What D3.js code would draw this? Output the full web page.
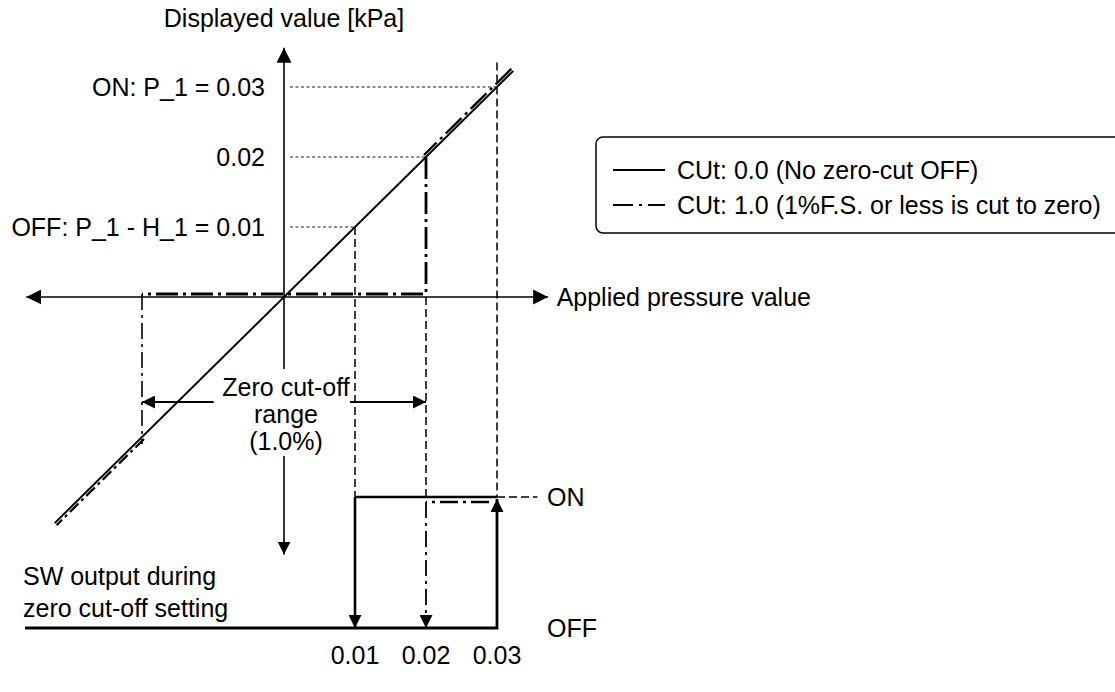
<!DOCTYPE html>
<html>
<head>
<meta charset="utf-8">
<script src="https://cdn.jsdelivr.net/npm/d3@7"></script>
<style>
body { margin: 0; background: #fff; }
text { font-family: "Liberation Sans", Arial, sans-serif; font-size: 25px; fill: #000; }
</style>
</head>
<body>
<div id="chart"></div>
<script>
var width = 1115;
var height = 692;

// values
var tickValues = [0.01, 0.02, 0.03];
var tickLabels = ["OFF: P_1 - H_1 = 0.01", "0.02", "ON: P_1 = 0.03"];
var lineExtent = [-0.0323, 0.0323];   // solid line, CUt 0.0
var offPoint = 0.01;                   // P_1 - H_1
var onPoint = 0.03;                    // P_1
var cutRange = [-0.02, 0.02];          // zero cut-off range
var states = ["OFF", "ON"];
var legendItems = ["CUt: 0.0 (No zero-cut OFF)", "CUt: 1.0 (1%F.S. or less is cut to zero)"];

var svg = d3.select("#chart").append("svg")
  .attr("width", width)
  .attr("height", height);

var x = d3.scaleLinear().domain([0, 0.03]).range([284, 497]);
var y = d3.scaleLinear().domain([0, 0.03]).range([297, 87]);
var ys = d3.scalePoint().domain(states).range([628, 497]);

var dashDot = "22,5,3,5";

// arrow head markers
var defs = svg.append("defs");
function marker(id, size) {
  defs.append("marker")
    .attr("id", id)
    .attr("viewBox", "0 -5 10 10")
    .attr("refX", 10)
    .attr("refY", 0)
    .attr("markerUnits", "userSpaceOnUse")
    .attr("markerWidth", size)
    .attr("markerHeight", size)
    .attr("orient", "auto-start-reverse")
    .append("path")
    .attr("d", "M0,-5L10,0L0,5Z")
    .attr("fill", "#000");
}
marker("big", 15);
marker("mid", 13);

// axes
svg.append("line")
  .attr("x1", x(-0.0363)).attr("x2", x(0.0372))
  .attr("y1", y(0)).attr("y2", y(0))
  .attr("stroke", "#000").attr("stroke-width", 1.6)
  .attr("marker-start", "url(#big)").attr("marker-end", "url(#big)");

svg.append("line")
  .attr("x1", x(0)).attr("x2", x(0))
  .attr("y1", y(-0.0103)).attr("y2", y(0.0356))
  .attr("stroke", "#000").attr("stroke-width", 1.6)
  .attr("marker-end", "url(#big)");

// lower part of vertical axis, below the range text
svg.append("line")
  .attr("x1", x(0)).attr("x2", x(0))
  .attr("y1", y(-0.0227)).attr("y2", y(-0.0368))
  .attr("stroke", "#000").attr("stroke-width", 1.6)
  .attr("marker-end", "url(#mid)");

// labels
svg.append("text").attr("x", x(0)).attr("y", 27)
  .attr("text-anchor", "middle").text("Displayed value [kPa]");
svg.append("text").attr("x", x(0.0384)).attr("y", y(0) + 9)
  .text("Applied pressure value");

svg.selectAll("text.tick")
  .data(tickValues)
  .enter().append("text")
  .attr("class", "tick")
  .attr("x", 265)
  .attr("y", function(d) { return y(d) + 9; })
  .attr("text-anchor", "end")
  .text(function(d, i) { return tickLabels[i]; });

// dotted guides from the y axis
svg.selectAll("line.guide")
  .data(tickValues)
  .enter().append("line")
  .attr("class", "guide")
  .attr("x1", x(0) + 6)
  .attr("x2", function(d) { return x(d); })
  .attr("y1", function(d) { return y(d); })
  .attr("y2", function(d) { return y(d); })
  .attr("stroke", "#000").attr("stroke-width", 0.9)
  .attr("stroke-dasharray", "3,2.5");

// dashed verticals down to the switch output
svg.append("line")
  .attr("x1", x(offPoint)).attr("x2", x(offPoint))
  .attr("y1", y(offPoint)).attr("y2", ys("ON"))
  .attr("stroke", "#000").attr("stroke-width", 1.5).attr("stroke-dasharray", "8,4");
svg.append("line")
  .attr("x1", x(cutRange[1])).attr("x2", x(cutRange[1]))
  .attr("y1", y(0)).attr("y2", ys("ON"))
  .attr("stroke", "#000").attr("stroke-width", 1.5).attr("stroke-dasharray", "8,4");
svg.append("line")
  .attr("x1", x(onPoint)).attr("x2", x(onPoint))
  .attr("y1", y(0.0335)).attr("y2", ys("ON"))
  .attr("stroke", "#000").attr("stroke-width", 1.5).attr("stroke-dasharray", "8,4");

// solid line: CUt 0.0
svg.append("line")
  .attr("x1", x(lineExtent[0])).attr("y1", y(lineExtent[0]))
  .attr("x2", x(lineExtent[1])).attr("y2", y(lineExtent[1]))
  .attr("stroke", "#000").attr("stroke-width", 2);

// dash-dot line: CUt 1.0 (drawn a few pixels off the solid one)
var cutPath = d3.line();
svg.append("path")
  .attr("d", cutPath([
    [x(lineExtent[1]) - 2, y(lineExtent[1]) - 2],
    [x(cutRange[1]) - 2, y(cutRange[1]) - 2]
  ]))
  .attr("fill", "none").attr("stroke", "#000").attr("stroke-width", 2.4)
  .attr("stroke-dasharray", dashDot);
svg.append("path")
  .attr("d", cutPath([
    [x(cutRange[1]), y(cutRange[1])],
    [x(cutRange[1]), y(0) - 3],
    [x(cutRange[0]), y(0) - 3]
  ]))
  .attr("fill", "none").attr("stroke", "#000").attr("stroke-width", 2.8)
  .attr("stroke-dasharray", dashDot);
svg.append("path")
  .attr("d", cutPath([
    [x(cutRange[0]), y(0) - 3],
    [x(cutRange[0]), y(cutRange[0]) + 7]
  ]))
  .attr("fill", "none").attr("stroke", "#000").attr("stroke-width", 1.6)
  .attr("stroke-dasharray", "16,5,3,5");
svg.append("path")
  .attr("d", cutPath([
    [x(cutRange[0]) + 2, y(cutRange[0]) + 2],
    [x(lineExtent[0]) + 2, y(lineExtent[0]) + 2]
  ]))
  .attr("fill", "none").attr("stroke", "#000").attr("stroke-width", 2.2)
  .attr("stroke-dasharray", "12,4,3,4");

// zero cut-off range arrows
var rangeY = 402;
svg.append("line")
  .attr("x1", x(-0.0099)).attr("x2", x(cutRange[0]))
  .attr("y1", rangeY).attr("y2", rangeY)
  .attr("stroke", "#000").attr("stroke-width", 2.2)
  .attr("marker-end", "url(#mid)");
svg.append("line")
  .attr("x1", x(0.0093)).attr("x2", x(cutRange[1]))
  .attr("y1", rangeY).attr("y2", rangeY)
  .attr("stroke", "#000").attr("stroke-width", 2.2)
  .attr("marker-end", "url(#mid)");
svg.selectAll("text.range")
  .data(["Zero cut-off", "range", "(1.0%)"])
  .enter().append("text")
  .attr("class", "range")
  .attr("x", x(0) + 2)
  .attr("y", function(d, i) { return 396 + i * 27; })
  .attr("text-anchor", "middle")
  .text(function(d) { return d; });

// switch output
svg.selectAll("text.sw")
  .data(["SW output during", "zero cut-off setting"])
  .enter().append("text")
  .attr("class", "sw")
  .attr("x", 23)
  .attr("y", function(d, i) { return 585 + i * 32; })
  .text(function(d) { return d; });

svg.append("path")
  .attr("d", cutPath([
    [x(offPoint), ys("ON")],
    [x(onPoint), ys("ON")]
  ]))
  .attr("stroke", "#000").attr("stroke-width", 2.4);
svg.append("path")
  .attr("d", cutPath([
    [25, ys("OFF")],
    [x(onPoint), ys("OFF")],
    [x(onPoint), ys("ON") + 2]
  ]))
  .attr("fill", "none").attr("stroke", "#000").attr("stroke-width", 2.8)
  .attr("marker-end", "url(#mid)");
svg.append("line")
  .attr("x1", x(offPoint)).attr("x2", x(offPoint))
  .attr("y1", ys("ON")).attr("y2", ys("OFF"))
  .attr("stroke", "#000").attr("stroke-width", 2.6)
  .attr("marker-end", "url(#mid)");
svg.append("path")
  .attr("d", cutPath([
    [x(onPoint) - 8, ys("ON") + 5],
    [x(cutRange[1]), ys("ON") + 5]
  ]))
  .attr("fill", "none").attr("stroke", "#000").attr("stroke-width", 2.4)
  .attr("stroke-dasharray", "18,5,3,5");
svg.append("path")
  .attr("d", cutPath([
    [x(cutRange[1]), ys("ON") + 5],
    [x(cutRange[1]), ys("OFF")]
  ]))
  .attr("fill", "none").attr("stroke", "#000").attr("stroke-width", 1.8)
  .attr("stroke-dasharray", "16,5,3,5")
  .attr("marker-end", "url(#mid)");
svg.append("line")
  .attr("x1", x(onPoint)).attr("x2", x(0.0357))
  .attr("y1", ys("ON")).attr("y2", ys("ON"))
  .attr("stroke", "#000").attr("stroke-width", 1.3).attr("stroke-dasharray", "8,4");

svg.selectAll("text.state")
  .data(states)
  .enter().append("text")
  .attr("class", "state")
  .attr("x", 547)
  .attr("y", function(d) { return ys(d) + 9; })
  .text(function(d) { return d; });

svg.selectAll("text.xtick")
  .data(tickValues)
  .enter().append("text")
  .attr("class", "xtick")
  .attr("x", function(d) { return x(d); })
  .attr("y", 664)
  .attr("text-anchor", "middle")
  .text(function(d) { return d3.format(".2f")(d); });

// legend
var legend = svg.append("g").attr("transform", "translate(596,137)");
legend.append("rect")
  .attr("width", 525).attr("height", 96)
  .attr("rx", 7).attr("ry", 7)
  .attr("fill", "#fff").attr("stroke", "#000").attr("stroke-width", 1.5);
var item = legend.selectAll("g.item")
  .data(legendItems)
  .enter().append("g")
  .attr("class", "item")
  .attr("transform", function(d, i) { return "translate(0," + (33 + i * 35) + ")"; });
item.append("line")
  .attr("x1", 17).attr("x2", 69)
  .attr("stroke", "#000").attr("stroke-width", 2)
  .attr("stroke-dasharray", function(d, i) { return i ? "20,6,3,6" : null; });
item.append("text")
  .attr("x", 81).attr("y", 9)
  .text(function(d) { return d; });
</script>
</body>
</html>
